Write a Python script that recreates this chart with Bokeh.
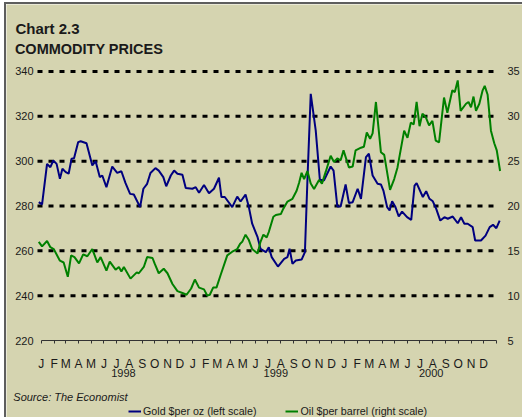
import pandas as pd
from bokeh.plotting import figure
from bokeh.models import (LinearAxis, Range1d, FixedTicker, Legend, LegendItem, InlineStyleSheet)
from bokeh.embed import file_html
from bokeh.resources import INLINE

# ---------------- data ----------------
gold_dates = [
    "1997-12-26", "1998-01-03", "1998-01-15", "1998-01-23", "1998-01-30", "1998-02-07", "1998-02-15",
    "1998-02-21", "1998-03-01", "1998-03-08", "1998-03-15", "1998-03-21", "1998-03-31", "1998-04-06",
    "1998-04-20", "1998-05-04", "1998-05-12", "1998-05-22", "1998-05-28", "1998-06-07", "1998-06-21",
    "1998-07-03", "1998-07-13", "1998-07-23", "1998-08-03", "1998-08-12", "1998-08-27", "1998-09-04",
    "1998-09-13", "1998-09-21", "1998-10-03", "1998-10-11", "1998-10-22", "1998-10-29", "1998-11-09",
    "1998-11-17", "1998-11-25", "1998-12-07", "1998-12-15", "1998-12-31", "1999-01-08", "1999-01-16",
    "1999-01-28", "1999-02-09", "1999-02-21", "1999-03-05", "1999-03-11", "1999-03-19", "1999-04-06",
    "1999-04-18", "1999-04-26", "1999-05-08", "1999-05-16", "1999-05-24", "1999-06-06", "1999-06-13",
    "1999-06-26", "1999-07-03", "1999-07-10", "1999-07-25", "1999-08-09", "1999-08-17", "1999-08-22",
    "1999-08-29", "1999-09-06", "1999-09-20", "1999-09-28", "1999-10-04", "1999-10-12", "1999-10-24",
    "1999-11-03", "1999-11-13", "1999-11-29", "1999-12-06", "1999-12-15", "1999-12-23", "2000-01-04",
    "2000-01-12", "2000-01-21", "2000-02-02", "2000-02-10", "2000-02-22", "2000-02-29", "2000-03-09",
    "2000-03-21", "2000-03-29", "2000-04-04", "2000-04-13", "2000-04-19", "2000-04-25", "2000-05-03",
    "2000-05-11", "2000-05-19", "2000-05-31", "2000-06-10", "2000-06-18", "2000-06-23", "2000-07-08",
    "2000-07-16", "2000-07-24", "2000-08-01", "2000-08-09", "2000-08-19", "2000-08-29", "2000-09-06",
    "2000-09-18", "2000-09-30", "2000-10-08", "2000-10-16", "2000-10-24", "2000-11-05", "2000-11-11",
    "2000-11-25", "2000-12-06", "2000-12-16", "2000-12-24", "2001-01-01", "2001-01-09",
]
gold_price = [
    281.7, 280.7, 298.8, 297.3, 300.3, 298.8, 292.1,
    296.6, 295.1, 294.4, 301.1, 301.3, 308.5, 308.9,
    308.0, 298.1, 300.0, 292.9, 293.6, 288.4, 297.6,
    294.8, 295.5, 290.2, 285.4, 285.1, 279.5, 287.7,
    289.9, 294.7, 296.9, 295.8, 292.9, 288.8, 293.6,
    295.8, 294.4, 293.9, 288.0, 287.7, 288.4, 285.9,
    289.4, 285.7, 287.7, 292.6, 284.0, 284.0, 279.5,
    284.2, 282.0, 285.1, 279.5, 272.1, 266.1, 260.9,
    259.4, 261.6, 257.2, 253.0, 256.4, 257.2, 260.9,
    254.2, 255.7, 256.1, 259.4, 291.4, 330.0, 313.7,
    291.7, 291.4, 297.6, 295.8, 279.8, 279.8, 289.6,
    281.3, 281.7, 287.7, 283.2, 301.8, 303.3, 293.6,
    289.9, 289.6, 286.9, 279.5, 278.0, 282.1, 279.5,
    275.3, 277.5, 275.0, 273.8, 289.1, 290.2, 284.0,
    286.6, 283.2, 282.1, 278.8, 273.5, 275.0, 274.3,
    275.3, 272.3, 275.0, 272.1, 272.1, 270.6, 264.6,
    264.6, 266.8, 270.6, 271.6, 270.1, 273.5,
]
oil_dates = [
    "1997-12-26", "1998-01-03", "1998-01-15", "1998-01-23", "1998-01-31", "1998-02-15", "1998-02-24",
    "1998-03-06", "1998-03-14", "1998-03-22", "1998-04-02", "1998-04-12", "1998-04-22", "1998-05-04",
    "1998-05-16", "1998-05-24", "1998-06-07", "1998-06-15", "1998-06-29", "1998-07-07", "1998-07-13",
    "1998-07-19", "1998-08-04", "1998-08-19", "1998-08-24", "1998-09-05", "1998-09-13", "1998-09-26",
    "1998-10-01", "1998-10-11", "1998-10-23", "1998-11-01", "1998-11-13", "1998-11-25", "1998-12-07",
    "1998-12-17", "1998-12-28", "1999-01-06", "1999-01-16", "1999-01-28", "1999-02-05", "1999-02-11",
    "1999-02-19", "1999-02-27", "1999-03-09", "1999-03-25", "1999-04-06", "1999-04-18", "1999-04-25",
    "1999-04-30", "1999-05-08", "1999-05-16", "1999-05-24", "1999-06-06", "1999-06-13", "1999-06-20",
    "1999-06-28", "1999-07-03", "1999-07-14", "1999-07-20", "1999-08-01", "1999-08-07", "1999-08-17",
    "1999-08-29", "1999-09-08", "1999-09-14", "1999-09-20", "1999-09-26", "1999-10-04", "1999-10-12",
    "1999-10-20", "1999-11-01", "1999-11-08", "1999-11-17", "1999-11-29", "1999-12-07", "1999-12-15",
    "1999-12-23", "1999-12-30", "2000-01-12", "2000-01-21", "2000-01-28", "2000-02-10", "2000-02-17",
    "2000-02-24", "2000-03-03", "2000-03-09", "2000-03-17", "2000-03-29", "2000-04-06", "2000-04-20",
    "2000-04-30", "2000-05-08", "2000-05-24", "2000-06-01", "2000-06-09", "2000-06-16", "2000-06-23",
    "2000-06-30", "2000-07-07", "2000-07-15", "2000-07-23", "2000-07-31", "2000-08-08", "2000-08-16",
    "2000-08-28", "2000-09-05", "2000-09-17", "2000-09-23", "2000-09-30", "2000-10-07", "2000-10-20",
    "2000-10-26", "2000-11-01", "2000-11-07", "2000-11-13", "2000-11-21", "2000-11-29", "2000-12-04",
    "2000-12-11", "2000-12-19", "2000-12-27", "2001-01-02", "2001-01-10",
]
oil_price = [
    16.0, 15.5, 16.1, 15.4, 15.2, 13.9, 13.7,
    12.1, 14.5, 14.3, 13.6, 14.6, 14.4, 15.2,
    13.7, 14.3, 12.8, 13.8, 12.9, 13.2, 12.7,
    13.2, 11.9, 12.6, 12.5, 13.2, 14.3, 14.2,
    13.6, 12.5, 13.0, 12.5, 11.3, 10.5, 10.3,
    10.1, 10.8, 11.8, 10.9, 10.7, 10.0, 10.1,
    10.9, 10.9, 12.3, 14.5, 14.9, 15.2, 15.8,
    16.0, 16.8, 16.2, 15.2, 14.7, 16.0, 16.8,
    16.5, 17.1, 18.8, 19.0, 19.1, 19.7, 20.5,
    20.8, 21.7, 22.6, 23.7, 23.0, 23.9, 22.5,
    21.9, 22.9, 22.5, 23.8, 25.6, 24.9, 25.3,
    25.1, 26.2, 24.3, 24.4, 26.2, 26.5, 26.6,
    28.2, 27.5, 28.1, 31.6, 26.0, 25.7, 21.8,
    23.0, 24.3, 28.4, 27.6, 29.3, 29.1, 31.6,
    28.9, 30.3, 29.9, 29.0, 29.5, 27.3, 27.1,
    32.1, 30.4, 32.9, 32.7, 34.0, 30.6, 31.4,
    31.6, 31.0, 32.2, 30.6, 31.4, 32.9, 33.4,
    32.4, 28.4, 27.0, 26.2, 23.9,
]
month_letters = list("JFMAMJJASOND") * 3
year_labels = ["1998", "1999", "2000"]
year_label_dates = ["1998-07-18", "1999-07-20", "2000-07-28"]
gold_ticks = [220, 240, 260, 280, 300, 320, 340]
oil_ticks = [5, 10, 15, 20, 25, 30, 35]
gold_grid = [240, 260, 280, 300, 320, 340]
title_line1 = "Chart 2.3"
title_line2 = "COMMODITY PRICES"
source_text = "Source:  The Economist"
legend_labels = ["Gold $per oz (left scale)", "Oil $per barrel (right scale)"]

# ---------------- layout helpers (page pixels -> data units) ----------------
BASE = pd.Timestamp("1998-01-01")
def to_days(dates):
    return [float((pd.Timestamp(d) - BASE).days) for d in dates]

# plot area of the reference: x 37..500 px  <->  days -9..1106 ; y 67..340 px <-> 341.78..220
PX_L, PX_R, DAY_L, DAY_R = 37.0, 500.0, -9.0, 1106.0
PX_T, PX_B, G_T, G_B = 67.0, 340.0, 341.78, 220.0
def day_at(px):
    return DAY_L + (px - PX_L) * (DAY_R - DAY_L) / (PX_R - PX_L)
def gold_at(py):
    return G_B + (PX_B - py) * (G_T - G_B) / (PX_B - PX_T)
def oil_of(g):
    return 5 + (g - 220) / 4

# canvas occupies page x 6..524, y 4..419 (a 2px border sits left/top of it)
CX0, CX1, CY0, CY1 = 6, 524, 4, 419

gx = to_days(gold_dates)
ox = to_days(oil_dates)
month_starts = to_days(pd.date_range("1998-01-01", "2001-01-01", freq="MS"))
year_pos = to_days(year_label_dates)

BG = "#D5D4B0"
FONT = "Liberation Sans"
TXT = "#1a1a1a"

p = figure(width=CX1 - CX0, height=CY1 - CY0, output_backend="svg", toolbar_location=None,
           title=None, min_border=0,
           x_range=Range1d(day_at(CX0), day_at(CX1)),
           y_range=Range1d(gold_at(CY1), gold_at(CY0)))
p.extra_y_ranges = {"oil": Range1d(oil_of(gold_at(CY1)), oil_of(gold_at(CY0)))}
p.background_fill_color = BG
p.border_fill_color = BG
p.outline_line_color = None
p.xgrid.visible = False
p.ygrid.visible = False
p.stylesheets = [InlineStyleSheet(css=":host { margin: 2px 0 0 4px; border-left: 2px solid #5e5e5e; "
                                      "border-top: 2px solid #5e5e5e; }")]

def plain_axis(ax, size="11px", standoff=0):
    ax.axis_line_color = None
    ax.major_tick_line_color = None
    ax.minor_tick_line_color = None
    ax.major_tick_out = 0
    ax.major_tick_in = 0
    ax.major_label_standoff = standoff
    ax.major_label_text_font = FONT
    ax.major_label_text_font_size = size
    ax.major_label_text_color = TXT

# left axis (gold)
ya = p.yaxis[0]
ya.ticker = FixedTicker(ticks=gold_ticks)
ya.fixed_location = day_at(PX_L)
plain_axis(ya, standoff=4)

# right axis (oil)
ra = LinearAxis(y_range_name="oil", ticker=FixedTicker(ticks=oil_ticks))
ra.fixed_location = day_at(PX_R)
plain_axis(ra, standoff=7)
p.add_layout(ra, "right")

# bottom (months) axis
xa = p.xaxis[0]
xa.ticker = FixedTicker(ticks=month_starts)
xa.major_label_overrides = {t: (month_letters[i] if i < len(month_letters) else "")
                            for i, t in enumerate(month_starts)}
xa.fixed_location = G_B
xa.bounds = (month_starts[0], month_starts[-1])
xa.axis_line_color = "#333333"
xa.major_tick_line_color = "#333333"
xa.major_tick_out = 3
xa.major_tick_in = 0
xa.minor_tick_line_color = None
xa.major_label_standoff = 13
xa.major_label_text_font = FONT
xa.major_label_text_font_size = "12px"
xa.major_label_text_color = TXT

# years
yr = LinearAxis(ticker=FixedTicker(ticks=year_pos), fixed_location=G_B)
yr.major_label_overrides = {t: year_labels[i] for i, t in enumerate(year_pos)}
plain_axis(yr, standoff=28)
p.add_layout(yr, "below")

# source line
src_pos = day_at(71.5)
src = LinearAxis(ticker=FixedTicker(ticks=[src_pos]), fixed_location=G_B)
src.major_label_overrides = {src_pos: source_text}
plain_axis(src, standoff=50)
src.major_label_text_font_style = "italic"
p.add_layout(src, "below")

# title lines
t2_pos = day_at(88.5)
t2 = LinearAxis(ticker=FixedTicker(ticks=[t2_pos]), fixed_location=G_T)
t2.major_label_overrides = {t2_pos: title_line2}
plain_axis(t2, size="14.5px", standoff=11)
t2.major_label_text_font_style = "bold"
p.add_layout(t2, "above")

t1_pos = day_at(47)
t1 = LinearAxis(ticker=FixedTicker(ticks=[t1_pos]), fixed_location=G_T)
t1.major_label_overrides = {t1_pos: title_line1}
plain_axis(t1, size="15px", standoff=31)
t1.major_label_text_font_style = "bold"
p.add_layout(t1, "above")

# dotted horizontal grid lines across the plot area
n = len(gold_grid)
p.segment(x0=[day_at(PX_L)] * n, y0=gold_grid, x1=[month_starts[-1]] * n, y1=gold_grid,
          line_color="black", line_width=3, line_dash="5 6")

# series
g = p.line(gx, gold_price, line_color="#00007F", line_width=2)
o = p.line(ox, oil_price, line_color="#008000", line_width=2, y_range_name="oil")

legend = Legend(items=[LegendItem(label=legend_labels[0], renderers=[g]),
                       LegendItem(label=legend_labels[1], renderers=[o])],
                orientation="horizontal", location=(128 - CX0, CY1 - 417),
                padding=0, margin=0, spacing=29, label_standoff=2,
                glyph_width=13, glyph_height=12, label_height=12,
                label_text_font=FONT, label_text_font_size="10.7px", label_text_color=TXT,
                background_fill_alpha=0, border_line_alpha=0)
p.add_layout(legend)

open("out.html", "w").write(file_html(p, INLINE))
